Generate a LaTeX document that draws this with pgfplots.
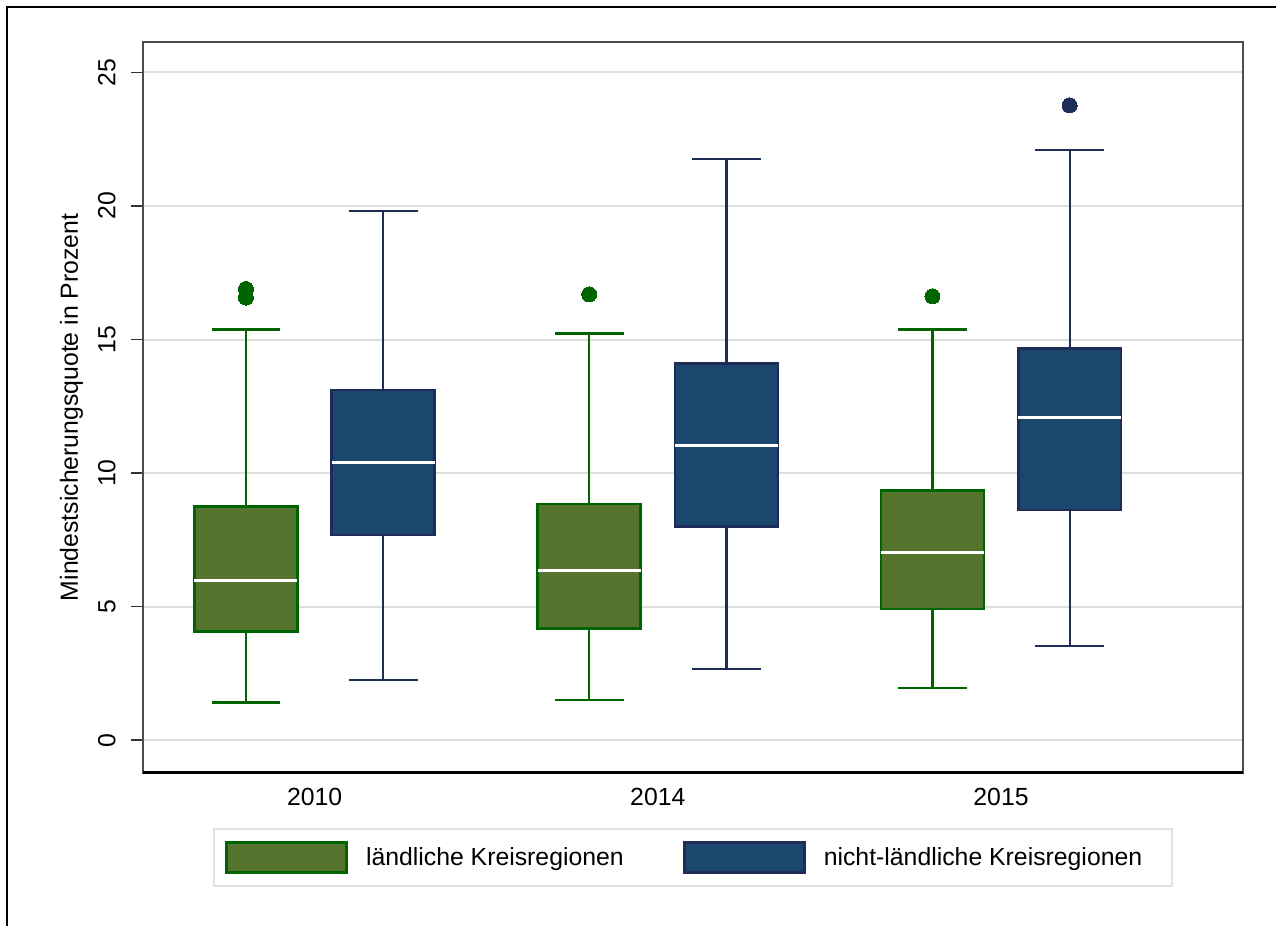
\documentclass[border=0pt]{standalone}
\usepackage{pgfplots}
\pgfplotsset{compat=1.18}
\usepgfplotslibrary{statistics}
\usepackage{fontspec}
\setmainfont{Liberation Sans}
\definecolor{gfill}{RGB}{85,117,47}
\definecolor{gline}{RGB}{0,100,0}
\definecolor{nfill}{RGB}{27,71,111}
\definecolor{nline}{RGB}{30,45,88}
\definecolor{gridc}{RGB}{222,222,222}
\definecolor{legc}{RGB}{226,226,226}
\begin{document}
\begin{tikzpicture}
\useasboundingbox (0,0) rectangle (638pt,-463pt);
\fill[white] (0,0) rectangle (638pt,-463pt);
\draw[line width=1.4pt] (3.5pt,-464pt) -- (3.5pt,-3.5pt) -- (639pt,-3.5pt);
\begin{axis}[
  at={(71.5pt,-386.35pt)}, anchor=south west,
  scale only axis, width=550pt, height=365.35pt,
  xmin=-0.5, xmax=2.705, ymin=-1.22, ymax=26.14,
  xtick={0,1,2}, xticklabels={2010,2014,2015},
  ytick={0,5,10,15,20,25},
  ytick pos=left,
  ymajorgrids, grid style={gridc, line width=1pt},
  tick align=outside, major tick length=6pt,
  xtick style={draw=none},
  ytick style={black!80, line width=0.8pt},
  axis line style={black!70, line width=0.9pt},
  /pgf/number format/assume math mode=true,
  tick label style={font=\fontsize{12.4}{14}\selectfont},
  yticklabel style={xshift=-7.5pt, rotate=90, anchor=south, inner sep=0pt},
  xticklabel style={anchor=north, inner sep=0pt, yshift=-1.5pt},
  ylabel={Mindestsicherungsquote in Prozent},
  ylabel style={at={(axis description cs:-0.065,0.5)}, anchor=center, font=\fontsize{12.4}{14}\selectfont},
  boxplot/draw direction=y,
  boxplot/box extend=0.3, boxplot/whisker extend=0.2,
  boxplot/every median/.style={white, line width=1.5pt},
  legend columns=2,
  legend style={at={(axis description cs:0.5,0)}, anchor=north, yshift=-27.75pt,
    draw=legc, line width=1pt, inner xsep=5.5pt, inner ysep=6pt,
    nodes={inner sep=0pt, anchor=west},
    font=\fontsize{12.4}{14}\selectfont,
    /tikz/every odd column/.append style={column sep=9pt},
    /tikz/every even column/.append style={column sep=0pt}},
  after end axis/.code={\draw[black, line width=1.6pt] (rel axis cs:0,0) -- (rel axis cs:1,0);},
]
\addlegendimage{legend image code/.code={\draw[draw=gline, fill=gfill, line width=1.4pt] (0pt,-7.55pt) rectangle (60pt,7.55pt);}}
\addlegendentry{\makebox[158.5pt][l]{ländliche Kreisregionen}}
\addlegendimage{legend image code/.code={\draw[draw=nline, fill=nfill, line width=1.4pt] (0pt,-7.55pt) rectangle (60pt,7.55pt);}}
\addlegendentry{\makebox[168.5pt][l]{nicht-ländliche Kreisregionen}}

% 2010
\addplot[forget plot, boxplot prepared={draw position=-0.2, lower whisker=1.41, lower quartile=4.06, median=5.97, upper quartile=8.74, upper whisker=15.38},
  draw=gline, fill=gfill, line width=1.3pt, mark=*, mark size=3.75pt, mark options={fill=gline, draw=gline, line width=0pt},
  boxplot/every whisker/.style={gline, line width=1.15pt}]
  coordinates {(0,16.89) (0,16.57)};
\addplot[forget plot, boxplot prepared={draw position=0.2, lower whisker=2.25, lower quartile=7.68, median=10.39, upper quartile=13.11, upper whisker=19.81},
  draw=nline, fill=nfill, line width=1.3pt, mark=*, mark size=3.75pt, mark options={fill=nline, draw=nline, line width=0pt},
  boxplot/every whisker/.style={nline, line width=1.15pt}]
  coordinates {};
% 2014
\addplot[forget plot, boxplot prepared={draw position=0.8, lower whisker=1.50, lower quartile=4.19, median=6.37, upper quartile=8.84, upper whisker=15.22},
  draw=gline, fill=gfill, line width=1.3pt, mark=*, mark size=3.75pt, mark options={fill=gline, draw=gline, line width=0pt},
  boxplot/every whisker/.style={gline, line width=1.15pt}]
  coordinates {(0,16.69)};
\addplot[forget plot, boxplot prepared={draw position=1.2, lower whisker=2.66, lower quartile=7.99, median=11.05, upper quartile=14.11, upper whisker=21.76},
  draw=nline, fill=nfill, line width=1.3pt, mark=*, mark size=3.75pt, mark options={fill=nline, draw=nline, line width=0pt},
  boxplot/every whisker/.style={nline, line width=1.15pt}]
  coordinates {};
% 2015
\addplot[forget plot, boxplot prepared={draw position=1.8, lower whisker=1.95, lower quartile=4.91, median=7.03, upper quartile=9.34, upper whisker=15.38},
  draw=gline, fill=gfill, line width=1.3pt, mark=*, mark size=3.75pt, mark options={fill=gline, draw=gline, line width=0pt},
  boxplot/every whisker/.style={gline, line width=1.15pt}]
  coordinates {(0,16.62)};
\addplot[forget plot, boxplot prepared={draw position=2.2, lower whisker=3.53, lower quartile=8.61, median=12.07, upper quartile=14.67, upper whisker=22.10},
  draw=nline, fill=nfill, line width=1.3pt, mark=*, mark size=3.75pt, mark options={fill=nline, draw=nline, line width=0pt},
  boxplot/every whisker/.style={nline, line width=1.15pt}]
  coordinates {(0,23.77)};
\end{axis}
\end{tikzpicture}
\end{document}
